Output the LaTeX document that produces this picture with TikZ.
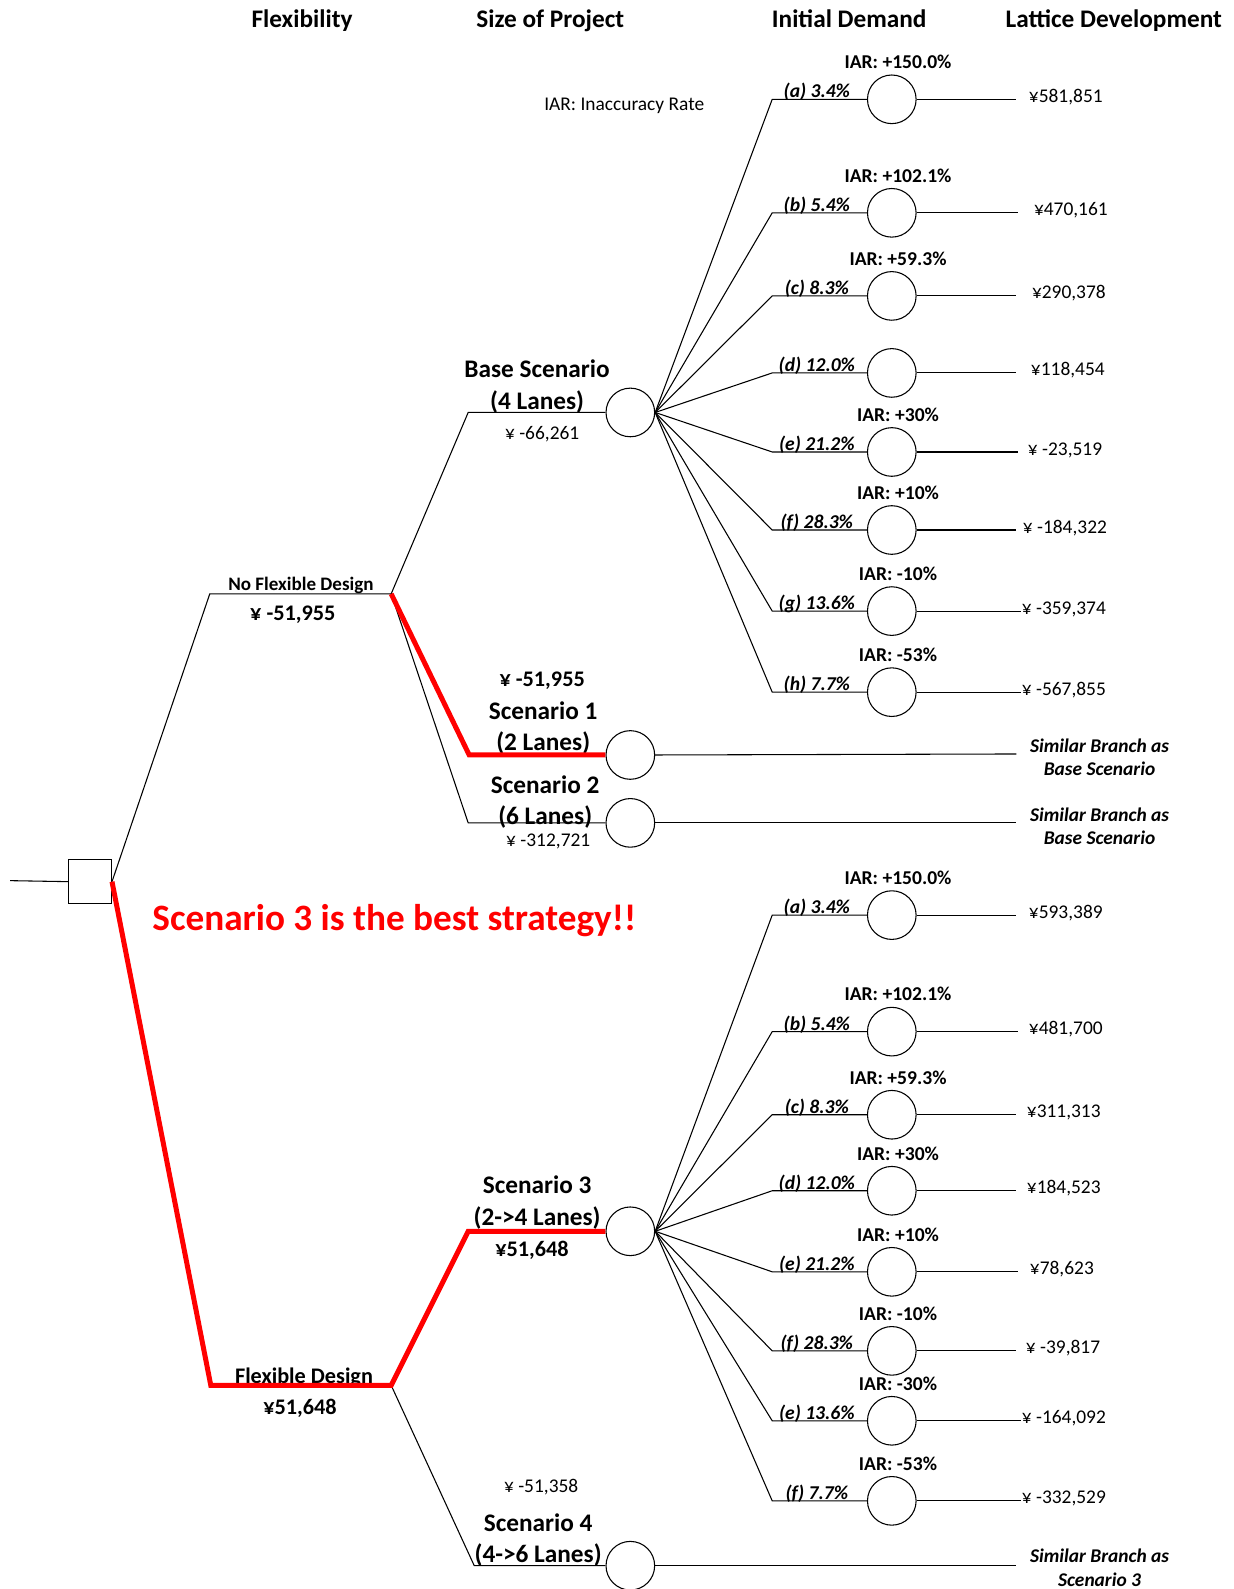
\documentclass[tikz,border=0pt]{standalone}
\usepackage{fontspec}
\setmainfont{Carlito}
\usepackage{tikz}
\usetikzlibrary{positioning}

\begin{document}
\begin{tikzpicture}[
  x=0.02cm, y=-0.02cm,
  wire/.style={line width=0.6pt},
  bestPath/.style={draw=red, line width=2.8pt},
  chance/.style={circle, draw, line width=0.6pt, minimum size=0.96cm, inner sep=0pt},
  decision/.style={rectangle, draw, line width=0.6pt, minimum width=0.84cm, minimum height=0.88cm, inner sep=0pt},
  colTitle/.style={font=\fontsize{14.2}{17}\selectfont\bfseries, anchor=base, inner sep=0pt},
  scenLabel/.style={font=\fontsize{14.2}{17.6}\selectfont\bfseries, align=center, inner sep=0pt},
  branchLabel/.style={font=\fontsize{12.5}{15}\selectfont\bfseries, inner sep=0pt},
  iarLabel/.style={font=\fontsize{11}{13}\selectfont\bfseries, inner sep=0pt},
  probLabel/.style={font=\fontsize{11}{13}\selectfont\bfseries\itshape, anchor=base, inner sep=0pt},
  payoff/.style={font=\fontsize{10.9}{13}\selectfont, inner sep=0pt},
  noteLabel/.style={font=\fontsize{10.9}{13}\selectfont\bfseries\itshape, align=center, inner sep=0pt}
]
\useasboundingbox (0,0) rectangle (1217,1568);

\node[colTitle] (tFlex) at (298,27) {Flexibility};
\node[colTitle] (tSize) at (543,27) {Size of Project};
\node[colTitle] (tDemand) at (838,27) {Initial Demand};
\node[colTitle] (tLattice) at (1099,27) {Lattice Development};
\node[payoff] (iarNote) at (616,104) {IAR: Inaccuracy Rate};

% decision node and first level
\coordinate (start) at (10,869);
\node[decision] (root) at (89,870) {};
\coordinate (nfL) at (207,586);
\coordinate (nfR) at (386,586);
\coordinate (fdL) at (208,1367);
\coordinate (fdR) at (386,1367);
\draw[wire] (start) -- (root.west);
\draw[wire] (root.east) -- (nfL) -- (nfR);
\node[font=\fontsize{10.7}{13}\selectfont\bfseries, anchor=base, inner sep=0pt] (nfName) at (297,583) {No Flexible Design};
\node[branchLabel] (nfVal) at (289,607) {¥ -51,955};
\node[font=\fontsize{12.5}{15}\selectfont\bfseries, anchor=base, inner sep=0pt] (fdName) at (300,1365) {Flexible Design};
\node[branchLabel] (fdVal) at (296,1390) {¥51,648};

% size of project, no flexibility
\node[chance] (baseC) at (622,407) {};
\node[chance] (s1C) at (622,745) {};
\node[chance] (s2C) at (622,812) {};
\coordinate (baseK) at (462,407);
\coordinate (s1K) at (463,745);
\coordinate (s2K) at (462,812);
\coordinate (s1E) at (1003,744);
\coordinate (s2E) at (1003,812);
\draw[wire] (nfR) -- (baseK) -- (baseC.west);
\draw[wire] (nfR) -- (s2K) -- (s2C.west);
\draw[wire] (s1C.east) -- (s1E);
\draw[wire] (s2C.east) -- (s2E);
\node[scenLabel] (baseName) at (530,381.5) {Base Scenario\\(4 Lanes)};
\node[payoff] (baseVal) at (535,428) {¥ -66,261};
\node[branchLabel] (s1Val) at (535,672) {¥ -51,955};
\node[scenLabel] (s1Name) at (536,718.5) {Scenario 1\\(2 Lanes)};
\node[scenLabel] (s2Name) at (538,791.5) {Scenario 2\\(6 Lanes)};
\node[payoff] (s2Val) at (541,830) {¥ -312,721};
\node[noteLabel] (s1Note) at (1085,747.5) {Similar Branch as\\Base Scenario};
\node[noteLabel] (s2Note) at (1085,815.5) {Similar Branch as\\Base Scenario};

\foreach \n/\yy/\prob/\iar/\val/\vx/\ex in {
  1/98/{(a) 3.4\%}/{IAR: +150.0\%}/{¥581,851}/1015/1003,
  2/210/{(b) 5.4\%}/{IAR: +102.1\%}/{¥470,161}/1020/1005,
  3/292/{(c) 8.3\%}/{IAR: +59.3\%}/{¥290,378}/1018/1003,
  4/368/{(d) 12.0\%}/{}/{¥118,454}/1017/1003,
  5/446/{(e) 21.2\%}/{IAR: +30\%}/{¥ -23,519}/1014/1005,
  6/523/{(f) 28.3\%}/{IAR: +10\%}/{¥ -184,322}/1009/1003,
  7/603/{(g) 13.6\%}/{IAR: -10\%}/{¥ -359,374}/1008/1007,
  8/683/{(h) 7.7\%}/{IAR: -53\%}/{¥ -567,855}/1008/1007}{
  \coordinate (bk\n) at (762,\yy);
  \node[chance] (bc\n) at (880,\yy) {};
  \coordinate (be\n) at (\ex,\yy);
  \draw[wire] (baseC.east) -- (bk\n) -- (bc\n.west);
  \draw[wire] (bc\n.east) -- (be\n);
  \node[probLabel] (bp\n) at (806,\yy-1.5) {\prob};
  \node[iarLabel, above=3pt of bc\n, xshift=3.5pt] (bi\n) {\iar};
  \node[payoff, anchor=base west] (bv\n) at (\vx,\yy+3) {\val};
}

% size of project, flexible
\node[chance] (s3C) at (622,1215) {};
\node[chance] (s4C) at (622,1545) {};
\coordinate (s3K) at (462,1215);
\coordinate (s4K) at (468,1545);
\coordinate (s4E) at (1003,1545);
\draw[wire] (fdR) -- (s4K) -- (s4C.west);
\draw[wire] (s4C.east) -- (s4E);
\node[scenLabel] (s3Name) at (530,1186.5) {Scenario 3\\(2->4 Lanes)};
\node[branchLabel] (s3Val) at (525,1234) {¥51,648};
\node[payoff] (s4Val) at (534,1467) {¥ -51,358};
\node[scenLabel] (s4Name) at (531,1519.5) {Scenario 4\\(4->6 Lanes)};
\node[noteLabel] (s4Note) at (1085,1547) {Similar Branch as\\Scenario 3};

\foreach \n/\yy/\prob/\iar/\val/\vx/\ex in {
  1/903/{(a) 3.4\%}/{IAR: +150.0\%}/{¥593,389}/1015/1003,
  2/1018/{(b) 5.4\%}/{IAR: +102.1\%}/{¥481,700}/1015/1005,
  3/1100/{(c) 8.3\%}/{IAR: +59.3\%}/{¥311,313}/1013/1003,
  4/1175/{(d) 12.0\%}/{IAR: +30\%}/{¥184,523}/1013/1003,
  5/1255/{(e) 21.2\%}/{IAR: +10\%}/{¥78,623}/1016/1005,
  6/1333/{(f) 28.3\%}/{IAR: -10\%}/{¥ -39,817}/1012/1003,
  7/1402/{(e) 13.6\%}/{IAR: -30\%}/{¥ -164,092}/1008/1007,
  8/1481/{(f) 7.7\%}/{IAR: -53\%}/{¥ -332,529}/1008/1007}{
  \coordinate (fk\n) at (762,\yy);
  \node[chance] (fc\n) at (880,\yy) {};
  \coordinate (fe\n) at (\ex,\yy);
  \draw[wire] (s3C.east) -- (fk\n) -- (fc\n.west);
  \draw[wire] (fc\n.east) -- (fe\n);
  \node[probLabel] (fp\n) at (806,\yy-1.5) {\prob};
  \node[iarLabel, above=3pt of fc\n, xshift=3.5pt] (fi\n) {\iar};
  \node[payoff, anchor=base west] (fv\n) at (\vx,\yy+3) {\val};
}

% best strategy
\draw[bestPath] (nfR) -- (s1K) -- (s1C.west);
\draw[bestPath] (root.east) -- (fdL) -- (fdR) -- (s3K) -- (s3C.west);
\node[font=\fontsize{20.9}{24}\selectfont\bfseries, text=red, inner sep=0pt] (bestNote) at (389,908) {Scenario 3 is the best strategy!!};
\end{tikzpicture}
\end{document}
